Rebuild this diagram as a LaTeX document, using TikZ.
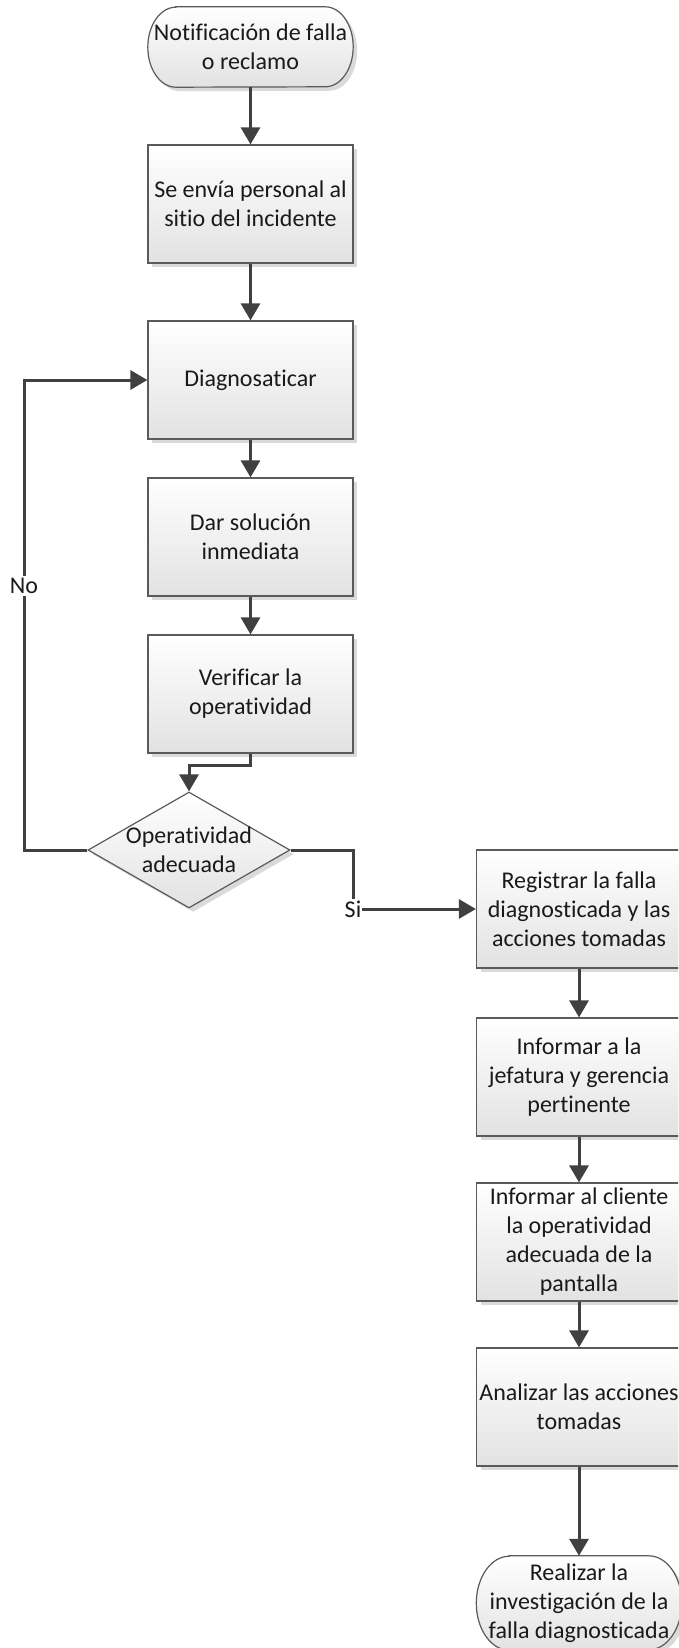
\documentclass[tikz,border=0pt]{standalone}
\usepackage{fontspec}
\setmainfont{Carlito}[Ligatures=NoCommon]
\usetikzlibrary{arrows.meta,shapes.geometric,shadows}
\pgfdeclarelayer{bg}
\pgfsetlayers{bg,main}
\definecolor{linec}{HTML}{404040}
\definecolor{bordc}{HTML}{5A5A5A}
\definecolor{txtc}{HTML}{1A1A1A}
\definecolor{shadc}{HTML}{DADADA}
\definecolor{fillb}{HTML}{E2E2E2}

\tikzset{
  every node/.style={font=\fontsize{24pt}{29pt}\selectfont, text=txtc, align=center},
  boxshadow/.style={drop shadow={shadow xshift=4pt, shadow yshift=-4pt, fill=shadc, opacity=1}},
  stepbox/.style={rectangle, draw=bordc, line width=1.2pt, top color=white, bottom color=fillb,
    minimum width=205pt, minimum height=118pt, inner sep=0pt, boxshadow},
  termbox/.style={rectangle, minimum width=205pt, inner sep=0pt},
  decision/.style={diamond, draw=bordc, line width=1.2pt, top color=white, bottom color=fillb,
    minimum width=202pt, minimum height=116pt, inner sep=0pt, boxshadow},
  tag/.style={fill=white, inner sep=2pt},
  wire/.style={draw=linec, line width=3pt},
  conn/.style={wire, -{Triangle[length=17pt,width=19pt]}},
  termfill/.style={draw=bordc, line width=1.2pt, top color=white, bottom color=fillb},
}

\begin{document}
\begin{tikzpicture}[x=1pt, y=-1pt]
\useasboundingbox (0,0) rectangle (678,1648);
\clip (0,0) rectangle (678,1648);

% left column
\node[termbox, minimum height=80pt] (n0) at (250.5,47) {Notificación de falla\\o reclamo};
\node[stepbox] (n1) at (250.5,204) {Se envía personal al\\sitio del incidente};
\node[stepbox] (n2) at (250.5,380) {Diagnosaticar};
\node[stepbox] (n3) at (250.5,537) {Dar solución\\inmediata};
\node[stepbox] (n4) at (250.5,694) {Verificar la\\operatividad};
\node[decision] (d) at (189,850) {};
\node (dtxt) at (d.center) {Operatividad\\adecuada};

% right column
\node[stepbox] (r1) at (579,909) {Registrar la falla\\diagnosticada y las\\acciones tomadas};
\node[stepbox] (r2) at (579,1077) {Informar a la\\jefatura y gerencia\\pertinente};
\node[stepbox] (r3) at (579,1242) {Informar al cliente\\la operatividad\\adecuada de la\\pantalla};
\node[stepbox] (r4) at (579,1407) {Analizar las acciones\\tomadas};
\node[termbox, minimum height=94pt] (e) at (579,1603) {Realizar la\\investigación de la\\falla diagnosticada};

% branch labels
\node[tag] (no) at (24,586) {No};
\node[tag, inner sep=1pt] (si) at (353,909) {Si};

% terminator outlines with elliptical ends
\begin{pgfonlayer}{bg}
  \begin{scope}[transform canvas={shift={(4pt,-4pt)}}]
    \fill[shadc] ([xshift=28pt]n0.north west) -- ([xshift=-28pt]n0.north east)
      arc[start angle=90, end angle=-90, x radius=28pt, y radius=40pt]
      -- ([xshift=28pt]n0.south west)
      arc[start angle=270, end angle=90, x radius=28pt, y radius=40pt] -- cycle;
    \fill[shadc] ([xshift=33pt]e.north west) -- ([xshift=-33pt]e.north east)
      arc[start angle=90, end angle=-90, x radius=33pt, y radius=47pt]
      -- ([xshift=33pt]e.south west)
      arc[start angle=270, end angle=90, x radius=33pt, y radius=47pt] -- cycle;
  \end{scope}
  \shade[termfill] ([xshift=28pt]n0.north west) -- ([xshift=-28pt]n0.north east)
    arc[start angle=90, end angle=-90, x radius=28pt, y radius=40pt]
    -- ([xshift=28pt]n0.south west)
    arc[start angle=270, end angle=90, x radius=28pt, y radius=40pt] -- cycle;
  \shade[termfill] ([xshift=33pt]e.north west) -- ([xshift=-33pt]e.north east)
    arc[start angle=90, end angle=-90, x radius=33pt, y radius=47pt]
    -- ([xshift=33pt]e.south west)
    arc[start angle=270, end angle=90, x radius=33pt, y radius=47pt] -- cycle;
\end{pgfonlayer}

% connectors
\draw[conn] (n0.south) -- (n1.north);
\draw[conn] (n1.south) -- (n2.north);
\draw[conn] (n2.south) -- (n3.north);
\draw[conn] (n3.south) -- (n4.north);
\draw[conn] (n4.south) -- ++(0,12) -| (d.north);
\draw[wire] (d.west) -| (no.south);
\draw[conn] (no.north) |- (n2.west);
\draw[wire] (d.east) -| (si.north);
\draw[conn] (si.east) -- (si.east -| r1.west);
\draw[conn] (r1.south) -- (r2.north);
\draw[conn] (r2.south) -- (r3.north);
\draw[conn] (r3.south) -- (r4.north);
\draw[conn] (r4.south) -- (e.north);
\end{tikzpicture}
\end{document}
